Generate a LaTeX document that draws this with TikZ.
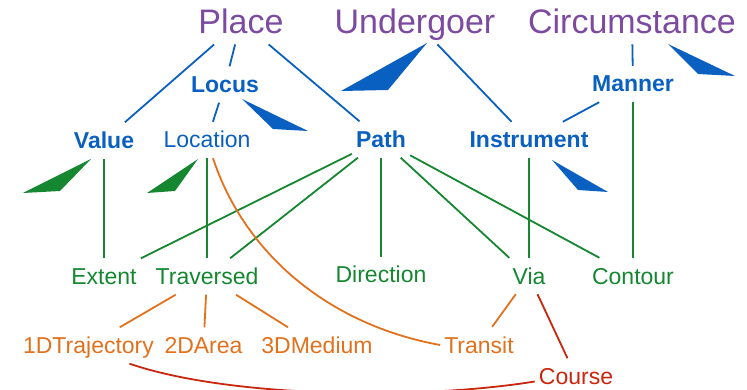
\documentclass[tikz,border=0pt]{standalone}
\usepackage{fontspec}
\setmainfont{Liberation Sans}
\usepackage{tikz}
\definecolor{purpleC}{RGB}{124,74,160}
\definecolor{blueC}{RGB}{10,96,192}
\definecolor{greenC}{RGB}{20,135,48}
\definecolor{orangeC}{RGB}{226,113,29}
\definecolor{redC}{RGB}{200,38,15}
\tikzstyle{supersense}=[text=purpleC,font=\fontsize{34}{40}\selectfont,text height=24.5pt,text depth=0pt,inner xsep=3pt,inner ysep=11pt]
\tikzstyle{sense}=[text=blueC,font=\bfseries\fontsize{23}{28}\selectfont,text height=16pt,text depth=0pt,inner xsep=4pt,inner ysep=10pt]
\tikzstyle{sensel}=[sense,font=\fontsize{23}{28}\selectfont]
\tikzstyle{leaf}=[sensel,text=greenC]
\tikzstyle{fine}=[sensel,text=orangeC]
\tikzstyle{deep}=[sensel,text=redC]
\tikzstyle{bedge}=[draw=blueC,line width=1.8pt]
\tikzstyle{gedge}=[draw=greenC,line width=1.8pt]
\tikzstyle{oedge}=[draw=orangeC,line width=1.8pt]
\tikzstyle{redge}=[draw=redC,line width=1.8pt]

\begin{document}
\begin{tikzpicture}[x=1pt,y=-1pt]
      \useasboundingbox (0,0) rectangle (747,390);

      \node[supersense] (place) at (241,21) {Place};
      \node[supersense] (undergoer) at (415,21) {Undergoer};
      \node[supersense] (circ) at (632,21) {Circumstance};

      \node[sense] (locus) at (225,84.5) {Locus};
      \node[sense] (manner) at (633,84) {Manner};
      \node[sense] (value) at (104,140.5) {Value};
      \node[sensel] (location) at (207,140) {Location};
      \node[sense] (path) at (381,139.5) {Path};
      \node[sense] (instrument) at (529,140) {Instrument};

      \node[leaf] (extent) at (104,276.5) {Extent};
      \node[leaf] (traversed) at (207,276.5) {Traversed};
      \node[leaf] (direction) at (381,275) {Direction};
      \node[leaf] (via) at (529,276) {Via};
      \node[leaf] (contour) at (633,276) {Contour};

      \node[fine] (traj) at (88.5,345.5) {1DTrajectory};
      \node[fine] (area) at (203.5,345.5) {2DArea};
      \node[fine] (medium) at (317,345.5) {3DMedium};
      \node[fine] (transit) at (479,345) {Transit};
      \node[deep] (course) at (576,376.5) {Course};

      \draw[bedge] (place) -- (value);
      \draw[bedge] (place) -- (locus);
      \draw[bedge] (place) -- (path);
      \draw[bedge] (locus) -- (location);
      \draw[bedge] (undergoer) -- (instrument);
      \draw[bedge] (circ) -- (manner);
      \draw[bedge] (manner) -- (instrument);

      \fill[blueC] (242,99) -- (273,129) -- (308,131) -- cycle;
      \fill[blueC] (427,43) -- (341,91) -- (388,90) -- cycle;
      \fill[blueC] (668,44) -- (698,74) -- (735,76) -- cycle;
      \fill[blueC] (552,160) -- (578,190) -- (608,192) -- cycle;
      \fill[greenC] (91,159) -- (60,191) -- (23,193) -- cycle;
      \fill[greenC] (198,159) -- (175,191) -- (147,193) -- cycle;

      \draw[gedge] (value) -- (extent);
      \draw[gedge] (location) -- (traversed);
      \draw[gedge] (path) -- (extent);
      \draw[gedge] (path) -- (traversed);
      \draw[gedge] (path) -- (direction);
      \draw[gedge] (path) -- (via);
      \draw[gedge] (path) -- (contour);
      \draw[gedge] (instrument) -- (via);
      \draw[gedge] (manner) -- (contour);

      \draw[oedge] (traversed) -- (traj);
      \draw[oedge] (traversed) -- (area);
      \draw[oedge] (traversed) -- (medium);
      \draw[oedge] (via) -- (transit);
      \draw[oedge] ([xshift=6pt]location.south) .. controls (245,255) and (330,325) .. (transit.west);

      \draw[redge] (via) -- (course);
      \draw[redge] ([xshift=41pt]traj.south) .. controls (230,398) and (420,400) .. ([yshift=-5pt]course.west);
    \end{tikzpicture}
\end{document}
